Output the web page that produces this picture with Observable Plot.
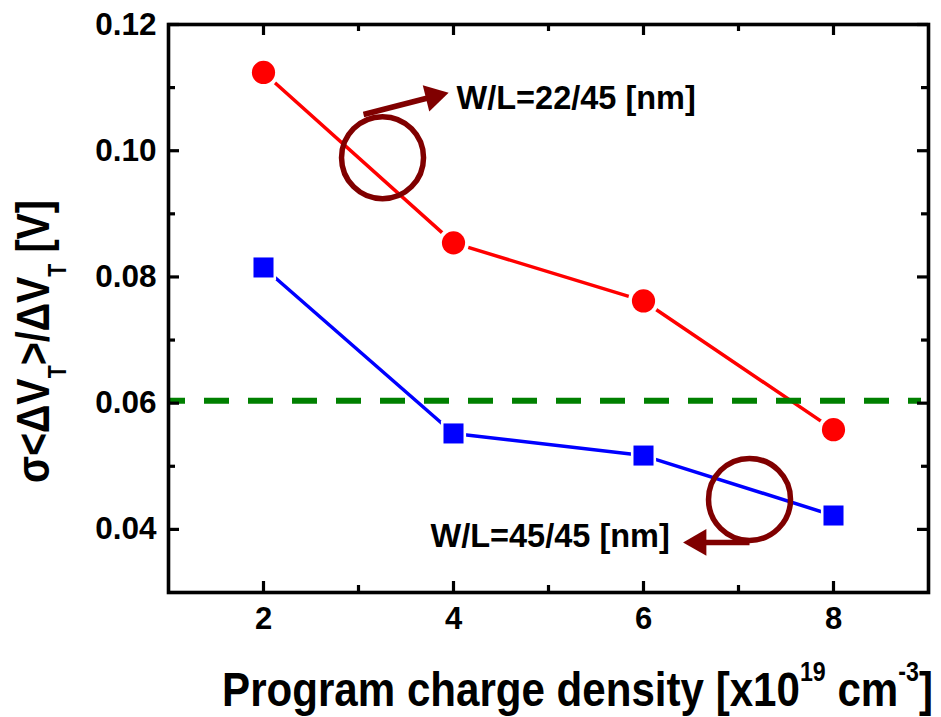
<!DOCTYPE html>
<html>
<head>
<meta charset="utf-8">
<script src="https://cdn.jsdelivr.net/npm/d3@7"></script>
<script src="https://cdn.jsdelivr.net/npm/@observablehq/plot@0.6"></script>
<style>
  body { margin: 0; background: #fff; }
  #chart svg { display: block; }
</style>
</head>
<body>
<div id="chart"></div>
<script>
// Program charge density (x1e19 cm^-3)
const density = [2, 4, 6, 8];
// sigma<dVT>/dVT [V] for the two device geometries
const sigmaW22 = [0.1124, 0.0854, 0.0762, 0.0558];
const sigmaW45 = [0.0815, 0.0552, 0.0517, 0.0422];
// Criterion level (dashed line)
const criterion = [0.0604];
// Axis ticks
const xMajor = [2, 4, 6, 8];
const xMinor = [3, 5, 7];
const yMajor = [0.04, 0.06, 0.08, 0.10, 0.12];
const yMinor = [0.05, 0.07, 0.09, 0.11];
const seriesLabels = ["W/L=22/45 [nm]", "W/L=45/45 [nm]"];

const W = 941, H = 717;
const mL = 168, mT = 24, mR = 13, mB = 125;
const innerW = W - mL - mR, innerH = H - mT - mB;
const font = "'Liberation Sans', Arial, Helvetica, sans-serif";
const darkRed = "#800000";

const s22 = density.map((x, i) => ({x, y: sigmaW22[i]}));
const s45 = density.map((x, i) => ({x, y: sigmaW45[i]}));

// Callouts: ring around each curve, arrow pointing to its label
const rings = [{x: 3.253, y: 0.0989}, {x: 7.116, y: 0.04475}];
const arrowShafts = [
  {x1: 3.053, y1: 0.10574, x2: 3.79, y2: 0.10859},
  {x1: 7.116, y1: 0.03794, x2: 6.58, y2: 0.03794}
];
const arrowHeads = [
  {x: 3.79, y: 0.10859, angle: 76},
  {x: 6.58, y: 0.03794, angle: -90}
];
const labels = [
  {x: 4.032, y: 0.10669, text: seriesLabels[0]},
  {x: 3.758, y: 0.03715, text: seriesLabels[1]}
];

const majorLen = 11, minorLen = 7, tickW = 3.2;

const chart = Plot.plot({
  width: W,
  height: H,
  marginLeft: mL,
  marginTop: mT,
  marginRight: mR,
  marginBottom: mB,
  style: {fontFamily: font, fontWeight: "bold", color: "#000", background: "#fff"},
  x: {domain: [1, 9], label: null},
  y: {domain: [0.03, 0.12], label: null},
  marks: [
    // connecting lines
    Plot.line(s22, {x: "x", y: "y", stroke: "#ff0000", strokeWidth: 3.5}),
    Plot.line(s45, {x: "x", y: "y", stroke: "#0000ff", strokeWidth: 3.5}),
    // white halos leave a small gap between line and marker
    Plot.dot(s22, {x: "x", y: "y", r: 15.5, fill: "#fff", stroke: null}),
    Plot.dot(s45, {x: "x", y: "y", r: 14.2, symbol: "square", fill: "#fff", stroke: null}),
    // markers
    Plot.dot(s22, {x: "x", y: "y", r: 11.6, fill: "#ff0000", stroke: null}),
    Plot.dot(s45, {x: "x", y: "y", r: 11.3, symbol: "square", fill: "#0000ff", stroke: null}),
    // criterion
    Plot.ruleY(criterion, {stroke: "#008000", strokeWidth: 6, strokeDasharray: "25,19", strokeDashoffset: 8, insetRight: 7}),
    // callouts
    Plot.dot(rings, {x: "x", y: "y", r: 41, fill: "none", stroke: darkRed, strokeWidth: 5.5}),
    Plot.link(arrowShafts, {x1: "x1", y1: "y1", x2: "x2", y2: "y2", stroke: darkRed, strokeWidth: 5.5}),
    Plot.dot(arrowHeads, {x: "x", y: "y", r: 10, symbol: "triangle", rotate: "angle", fill: darkRed, stroke: null}),
    Plot.text(labels, {x: "x", y: "y", text: "text", textAnchor: "start", lineAnchor: "bottom", fontSize: 32.5, fontWeight: "bold", fill: "#000"}),
    // tick labels
    Plot.axisX(xMajor, {tickSize: 0, tickPadding: 14, fontSize: 31, fontWeight: "bold", label: null}),
    Plot.axisY(yMajor, {tickSize: 0, tickPadding: 12, fontSize: 31.5, fontWeight: "bold", tickFormat: d3.format(".2f"), label: null}),
    // inward ticks on all four sides
    Plot.tickY(yMajor, {y: d => d, insetRight: innerW - majorLen, strokeWidth: tickW}),
    Plot.tickY(yMinor, {y: d => d, insetRight: innerW - minorLen, strokeWidth: tickW}),
    Plot.tickY(yMajor, {y: d => d, insetLeft: innerW - majorLen, strokeWidth: tickW}),
    Plot.tickY(yMinor, {y: d => d, insetLeft: innerW - minorLen, strokeWidth: tickW}),
    Plot.tickX(xMajor, {x: d => d, insetTop: innerH - majorLen, strokeWidth: tickW}),
    Plot.tickX(xMinor, {x: d => d, insetTop: innerH - minorLen, strokeWidth: tickW}),
    Plot.tickX(xMajor, {x: d => d, insetBottom: innerH - majorLen, strokeWidth: tickW}),
    Plot.tickX(xMinor, {x: d => d, insetBottom: innerH - minorLen, strokeWidth: tickW}),
    Plot.frame({stroke: "#000", strokeWidth: 3.6})
  ]
});

document.getElementById("chart").appendChild(chart);
const svg = d3.select(chart);

// x-axis title with superscripts, squeezed to its span
const xt = svg.append("text")
  .attr("font-family", font).attr("font-weight", "bold").attr("font-size", 49)
  .attr("fill", "#000");
xt.append("tspan").text("Program charge density [x10");
xt.append("tspan").attr("font-size", 27).attr("dy", -25).text("19");
xt.append("tspan").attr("dy", 25).text(" cm");
xt.append("tspan").attr("font-size", 27).attr("dy", -25).text("-3");
xt.append("tspan").attr("dy", 25).text("]");
{
  const b = xt.node().getBBox();
  const s = (933 - 222) / b.width;
  xt.attr("transform", `translate(${222 - b.x * s},706) scale(${s},1)`);
}

// y-axis title with subscripts, rotated and squeezed to its span
const yt = svg.append("text")
  .attr("font-family", font).attr("font-weight", "bold").attr("font-size", 46)
  .attr("fill", "#000");
yt.append("tspan").text("σ<ΔV");
yt.append("tspan").attr("font-size", 25).attr("dy", 17).text("T");
yt.append("tspan").attr("dy", -17).text(">/ΔV");
yt.append("tspan").attr("font-size", 25).attr("dy", 17).text("T");
yt.append("tspan").attr("dy", -17).text(" [V]");
{
  const b = yt.node().getBBox();
  const s = (483 - 200) / b.width;
  yt.attr("transform", `translate(49,${483 + b.x * s}) rotate(-90) scale(${s},1)`);
}
</script>
</body>
</html>
